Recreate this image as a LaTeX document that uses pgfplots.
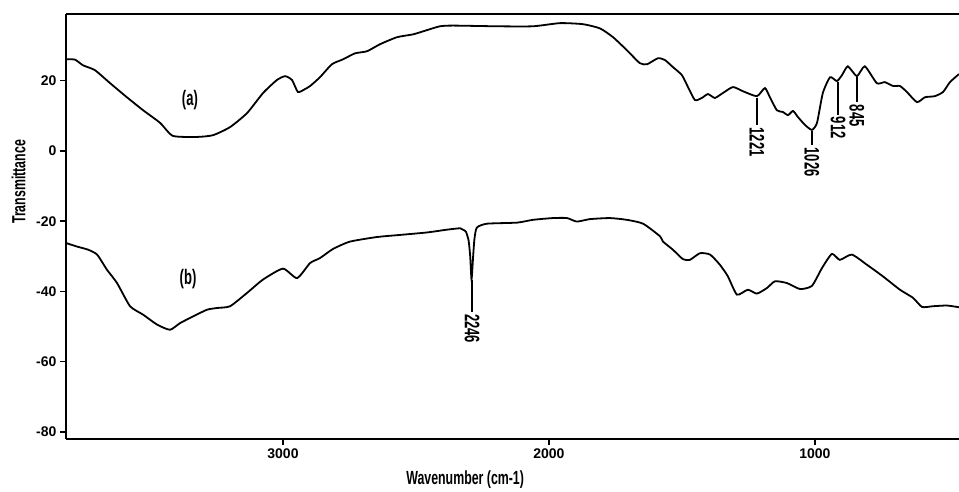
\documentclass[border=0pt]{standalone}
\usepackage{fontspec}
\setmainfont{Liberation Sans}
\usepackage{graphicx}
\usepackage{pgfplots}
\pgfplotsset{compat=1.18}

% condensed look of the original labels
\newcommand{\cond}[1]{\scalebox{0.65}[1]{#1}}
\newcommand{\acond}[1]{\scalebox{0.62}[1]{#1}}
\newcommand{\labfont}{\fontsize{19}{19}\selectfont\bfseries}
\newcommand{\annfont}{\fontsize{21}{21}\selectfont\bfseries}

\pgfplotstableread{
wn T
3816 26.1
3782 26.0
3752 24.4
3707 23.0
3650 19.3
3587 15.3
3526 11.6
3462 8.0
3414 4.3
3323 4.0
3263 4.5
3199 6.8
3135 10.8
3075 16.5
3023 20.2
2992 21.3
2966 20.2
2944 16.8
2920 17.5
2898 18.5
2861 21.0
2816 24.7
2774 26.1
2729 27.8
2684 28.4
2635 30.4
2571 32.4
2511 33.2
2459 34.4
2410 35.5
2361 35.7
2195 35.5
2060 35.5
1958 36.4
1872 36.1
1808 34.9
1759 32.4
1707 28.7
1658 25.0
1631 24.7
1590 26.4
1564 25.9
1534 23.9
1500 21.6
1477 18.2
1451 14.5
1425 15.1
1402 16.2
1376 15.1
1346 16.5
1308 18.2
1270 17.0
1218 15.6
1188 17.9
1169 15.3
1143 11.6
1120 11.1
1101 10.2
1082 11.4
1064 9.7
1037 7.4
1011 6.0
992 8.0
970 16.5
943 21.0
917 19.9
898 21.6
876 24.1
842 21.3
812 24.1
767 19.3
737 19.6
706 18.5
680 18.5
654 16.8
616 13.9
586 15.3
549 15.6
518 16.8
492 19.6
458 21.9
}\specA

\pgfplotstableread{
wn T
3816 -26.2
3775 -27.2
3733 -28.1
3699 -29.5
3662 -33.8
3624 -37.6
3575 -44.2
3526 -46.6
3474 -49.4
3425 -50.9
3387 -49.0
3338 -47.1
3286 -45.2
3248 -44.7
3199 -44.2
3135 -40.4
3075 -36.6
3000 -33.5
2947 -36.2
2898 -31.9
2861 -30.5
2812 -27.9
2748 -25.8
2647 -24.5
2560 -23.9
2459 -23.2
2383 -22.4
2334 -22.0
2323 -22.4
2312 -23.0
2302 -25.5
2296 -30.0
2291 -36.6
2285 -30.0
2280 -25.0
2271 -21.8
2233 -20.7
2120 -20.4
2060 -19.6
1985 -19.1
1932 -19.1
1895 -20.1
1846 -19.4
1771 -19.1
1707 -19.6
1646 -20.7
1582 -24.3
1571 -25.8
1534 -28.1
1496 -30.8
1470 -31.0
1432 -29.1
1394 -29.5
1357 -32.4
1327 -35.7
1293 -40.9
1252 -39.5
1218 -40.6
1180 -39.0
1150 -37.1
1105 -37.6
1056 -39.3
1011 -38.4
973 -33.3
936 -29.3
906 -31.0
861 -29.5
804 -32.4
744 -35.7
680 -39.5
631 -41.8
597 -44.4
556 -44.2
503 -44.0
458 -44.5
}\specB

\begin{document}
\begin{tikzpicture}
\begin{axis}[
    scale only axis, width=893pt, height=425pt,
    xmin=458, xmax=3816, ymin=-82, ymax=39,
    x dir=reverse,
    axis x line*=bottom, axis y line*=left,
    axis line style={line width=2pt,-},
    xtick={1000,2000,3000}, xticklabels={1000,2000,3000},
    ytick={-80,-60,-40,-20,0,20}, yticklabels={-80,-60,-40,-20,0,20},
    tick align=outside, major tick length=6pt,
    tick style={line width=1.5pt,black},
    tick label style={font=\fontsize{14}{14}\selectfont\bfseries},
    xlabel={\cond{Wavenumber (cm-1)}},
    ylabel={\cond{Transmittance}},
    label style={font=\labfont},
    xlabel style={at={(axis description cs:0.447,-0.0965)},anchor=center},
    ylabel style={at={(axis description cs:-0.053,0.605)},anchor=center},
    clip=false,
]
\addplot[black, line width=1.8pt, smooth, tension=0.35] table[x=wn,y=T] {\specA};
\addplot[black, line width=1.8pt, smooth, tension=0.35] table[x=wn,y=T] {\specB};

\draw[line width=2pt] (axis description cs:0,1) -- (axis description cs:1,1);

\node[font=\annfont] at (axis cs:3350,14.5) {\acond{(a)}};
\node[font=\annfont] at (axis cs:3357,-36.4) {\acond{(b)}};

\draw[line width=1.3pt] (axis cs:1218,15.2) -- (axis cs:1218,7.4)
    node[rotate=-90,anchor=west,inner sep=2pt,font=\annfont] {\acond{1221}};
\draw[line width=1.3pt] (axis cs:1011,5.6) -- (axis cs:1011,1.7)
    node[rotate=-90,anchor=west,inner sep=2pt,font=\annfont] {\acond{1026}};
\draw[line width=1.3pt] (axis cs:913,19.6) -- (axis cs:913,10.2)
    node[rotate=-90,anchor=west,inner sep=1pt,font=\annfont] {\acond{912}};
\draw[line width=1.3pt] (axis cs:842,21.0) -- (axis cs:842,13.9)
    node[rotate=-90,anchor=west,inner sep=2pt,font=\annfont] {\acond{845}};
\draw[line width=1.3pt] (axis cs:2289,-36.6) -- (axis cs:2289,-45.7)
    node[rotate=-90,anchor=west,inner sep=2pt,font=\annfont] {\acond{2246}};
\end{axis}
\pgfresetboundingbox
\useasboundingbox ([shift={(-66pt,-52pt)}]current axis.south west)
    rectangle ([shift={(0pt,14pt)}]current axis.north east);
\end{tikzpicture}
\end{document}
